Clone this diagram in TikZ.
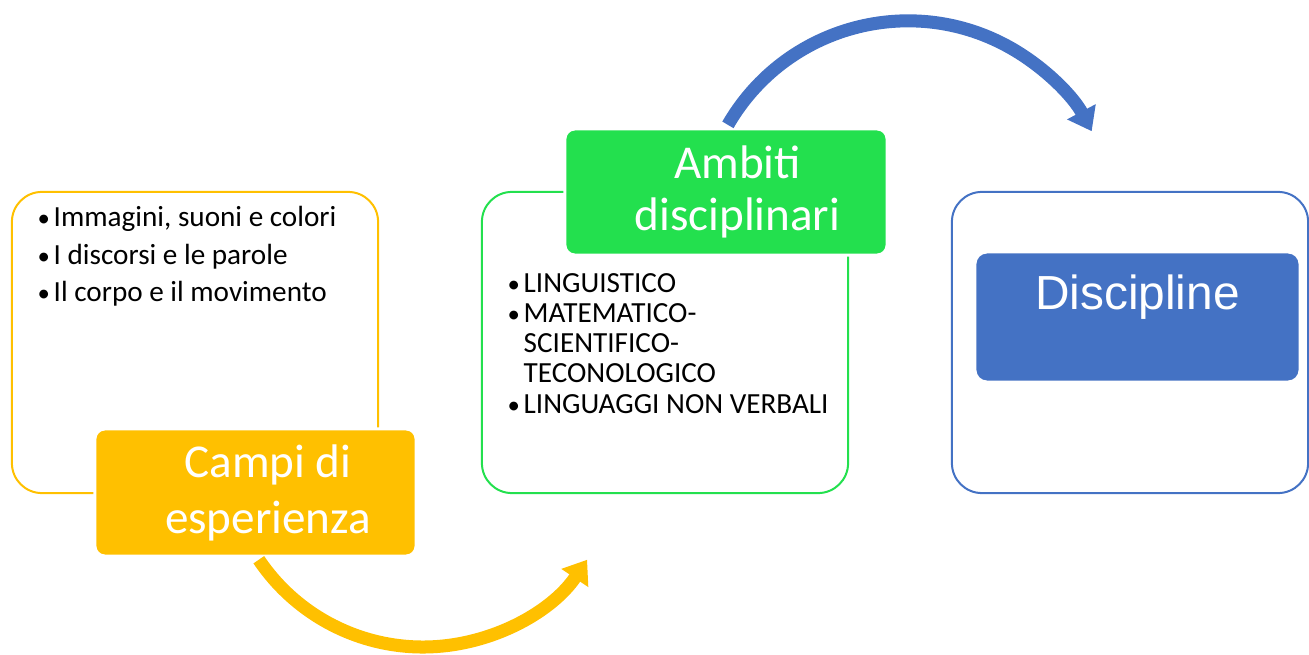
\documentclass[tikz,border=0pt]{standalone}
\usepackage{fontspec}
\setmainfont{Carlito}
\newfontfamily\arialfont{Liberation Sans}
\usetikzlibrary{arrows.meta}
\newcommand{\bul}{\makebox[0.19cm][l]{\hspace{0.03cm}\scalebox{0.85}{\textbullet}}}
\newcommand{\hang}{\hspace*{0.19cm}}

\begin{document}
\begin{tikzpicture}[x=0.01cm, y=-0.01cm,
		outerbox/.style={draw, line width=0.02cm, rounded corners=0.3cm, minimum height=3.01cm, outer sep=0pt},
		headbox/.style={draw=white, line width=0.03cm, rounded corners=0.1cm, text=white, align=center, outer sep=0pt, inner sep=0pt},
		listtext/.style={align=left, anchor=base west, inner sep=0pt},
		bendarrow/.style={line width=0.13cm, -{Triangle[width=0.31cm, length=0.22cm]}}]
		\definecolor{campiyellow}{HTML}{FFC000}
		\definecolor{ambitigreen}{HTML}{23E04E}
		\definecolor{discblue}{HTML}{4472C4}
		\useasboundingbox (0,0) rectangle (1309,655);
		\node[outerbox, draw=campiyellow, minimum width=3.66cm] (campiframe) at (195,342.5) {};
		\node[outerbox, draw=ambitigreen, minimum width=3.66cm] (ambitiframe) at (665,342.5) {};
		\node[outerbox, draw=discblue, minimum width=3.56cm] (discframe) at (1130,342.5) {};
		\node[listtext, font=\fontsize{8.3}{10.67}\selectfont] (campilist) at (34,302) {\bul Immagini, suoni e colori\\\bul I discorsi e le parole\\\bul Il corpo e il movimento};
		\node[listtext, font=\fontsize{8.3}{8.54}\selectfont] (ambitilist) at (504,413) {\bul LINGUISTICO\\\bul MATEMATICO-\\\hang SCIENTIFICO-\\\hang TECONOLOGICO\\\bul LINGUAGGI NON VERBALI};
		\node[headbox, fill=campiyellow, minimum width=3.21cm, minimum height=1.27cm, font=\fontsize{13.4}{15.9}\selectfont] (campi) at (255.5,492.5) {\hspace*{0.25cm}Campi di\\\hspace*{0.25cm}esperienza};
		\node[headbox, fill=ambitigreen, minimum width=3.22cm, minimum height=1.26cm, font=\fontsize{13.4}{14.7}\selectfont] (ambiti) at (726,192) {\hspace*{0.23cm}Ambiti\\\hspace*{0.23cm}disciplinari};
		\node[headbox, fill=discblue, rounded corners=0.12cm, minimum width=3.25cm, text height=0.58cm, text depth=0.72cm, font=\arialfont\fontsize{13.6}{16}\selectfont] (disc) at (1137.5,317) {Discipline};
		\draw[bendarrow, campiyellow] ([shift={(163.9,3.7)}]campi.south west) arc[start angle=146, end angle=34, radius=198];
		\draw[bendarrow, discblue] ([shift={(163,-4.1)}]ambiti.north west) arc[start angle=-150, end angle=-28, radius=208];
	\end{tikzpicture}
\end{document}
